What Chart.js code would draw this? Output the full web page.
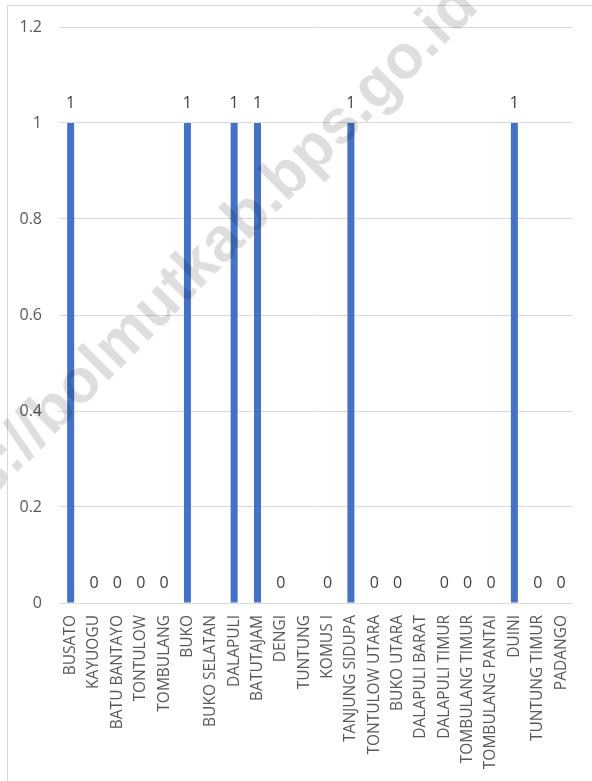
<!DOCTYPE html>
<html>
<head>
<meta charset="utf-8">
<script src="https://cdn.jsdelivr.net/npm/chart.js@4.4.1/dist/chart.umd.min.js"></script>
<style>
  html, body { margin: 0; padding: 0; background: #fff; }
  #wrap { position: absolute; left: 0; top: 0; width: 592px; height: 781px; overflow: hidden; }
  #frame { position: absolute; left: 7px; top: 5px; right: -10px; bottom: -10px; border-left: 1px solid #d9d9d9; border-top: 1px solid #d9d9d9; }
  canvas { position: absolute; left: 0; top: 0; }
</style>
</head>
<body>
<div id="wrap">
  <div id="frame"></div>
  <canvas id="c" width="592" height="781"></canvas>
</div>
<script>
const categories = ["BUSATO", "KAYUOGU", "BATU BANTAYO", "TONTULOW", "TOMBULANG", "BUKO", "BUKO SELATAN", "DALAPULI", "BATUTAJAM", "DENGI", "TUNTUNG", "KOMUS I", "TANJUNG SIDUPA", "TONTULOW UTARA", "BUKO UTARA", "DALAPULI BARAT", "DALAPULI TIMUR", "TOMBULANG TIMUR", "TOMBULANG PANTAI", "DUINI", "TUNTUNG TIMUR", "PADANGO"];
const values = [1, 0, 0, 0, 0, 1, null, 1, 1, 0, null, 0, 1, 0, 0, null, 0, 0, 0, 1, 0, 0];
const yTicks = [0, 0.2, 0.4, 0.6, 0.8, 1, 1.2];
const watermarkText = "bolmutkab.bps.go.id";
const watermarkPrefix = "https://";

const FONT = "'Open Sans', 'Noto Sans', sans-serif";

const valueLabels = {
  id: 'valueLabels',
  afterDatasetsDraw(chart) {
    const ctx = chart.ctx;
    const meta = chart.getDatasetMeta(0);
    ctx.save();
    ctx.font = "16px " + FONT;
    ctx.fillStyle = "#404040";
    ctx.textAlign = "center";
    ctx.textBaseline = "middle";
    meta.data.forEach((el, i) => {
      const v = chart.data.datasets[0].data[i];
      if (v === null || v === undefined) return;
      ctx.fillText(String(v), el.x, el.y - 20);
    });
    ctx.restore();
  }
};

const watermark = {
  id: 'watermark',
  afterDraw(chart) {
    const ctx = chart.ctx;
    ctx.save();
    ctx.translate(52, 437);
    ctx.rotate(-Math.PI / 4);
    ctx.font = "bold 62px 'Liberation Sans', Arial, sans-serif";
    ctx.fillStyle = "rgba(0,0,0,0.13)";
    ctx.textBaseline = "alphabetic";
    ctx.textAlign = "left";
    ctx.fillText(watermarkText, 0, 0);
    ctx.textAlign = "right";
    ctx.fillText(watermarkPrefix, 0, 0);
    ctx.restore();
  }
};

new Chart(document.getElementById('c'), {
  type: 'bar',
  data: {
    labels: categories,
    datasets: [{
      data: values,
      backgroundColor: '#4472c4',
      borderWidth: 0,
      categoryPercentage: 1.0,
      barPercentage: 0.3
    }]
  },
  options: {
    responsive: false,
    animation: false,
    events: [],
    layout: { padding: { left: 0, right: 14, top: 27, bottom: 0 } },
    plugins: { legend: { display: false }, tooltip: { enabled: false } },
    scales: {
      x: {
        grid: { display: false, drawTicks: false },
        border: { display: true, color: '#d9d9d9', width: 1 },
        ticks: {
          autoSkip: false,
          maxRotation: 90,
          minRotation: 90,
          padding: 12,
          color: '#595959',
          font: { size: 15.5, family: FONT }
        },
        afterFit(scale) { scale.height = 178; }
      },
      y: {
        min: 0,
        max: 1.2,
        afterBuildTicks(scale) { scale.ticks = yTicks.map(v => ({ value: v })); },
        grid: { color: '#d9d9d9', drawTicks: false },
        border: { display: false },
        ticks: {
          padding: 17,
          color: '#595959',
          font: { size: 16, family: FONT },
          callback: v => String(Math.round(v * 10) / 10)
        },
        afterFit(scale) { scale.width = 59; }
      }
    }
  },
  plugins: [valueLabels, watermark]
});
</script>
</body>
</html>
